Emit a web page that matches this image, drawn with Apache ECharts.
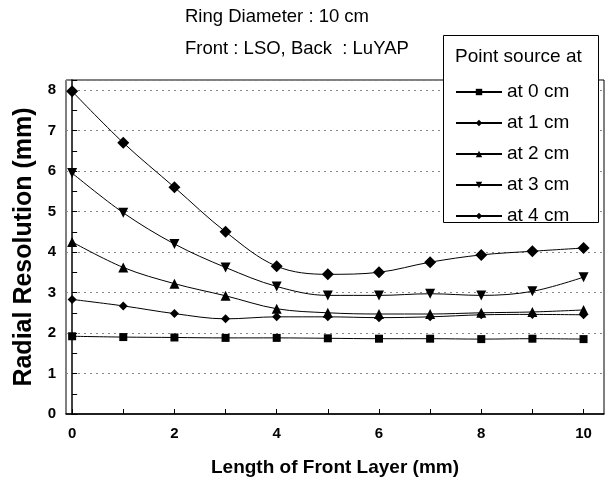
<!DOCTYPE html>
<html><head><meta charset="utf-8">
<script src="https://cdn.jsdelivr.net/npm/echarts@6/dist/echarts.min.js"></script>
<style>html,body{margin:0;padding:0;background:#fff}#c{width:609px;height:483px}</style>
</head><body><div id="c"></div>
<script>
const xValues = [0,1,2,3,4,5,6,7,8,9,10];
const at0 = [1.92,1.90,1.89,1.88,1.88,1.87,1.86,1.86,1.85,1.86,1.85];
const at1 = [2.83,2.67,2.48,2.35,2.40,2.40,2.38,2.40,2.45,2.46,2.45];
const at2 = [4.25,3.62,3.22,2.92,2.60,2.50,2.47,2.47,2.50,2.52,2.57];
const at3 = [5.95,4.97,4.20,3.62,3.15,2.93,2.93,2.97,2.93,3.03,3.38];
const at4 = [7.97,6.70,5.60,4.50,3.65,3.45,3.50,3.75,3.93,4.02,4.10];
const seriesNames = ['at 0 cm','at 1 cm','at 2 cm','at 3 cm','at 4 cm'];
const xTickLabels = [0,2,4,6,8,10];
const yTickLabels = [0,1,2,3,4,5,6,7,8];

const FONT = '"Liberation Sans",Arial,sans-serif';
const chart = echarts.init(document.getElementById('c'));
function pairs(arr){return xValues.map((x,i)=>[x,arr[i]]);}
const symbols = [
  {symbol:'rect', size:8, rot:0},
  {symbol:'diamond', size:9, rot:0},
  {symbol:'triangle', size:10, rot:0},
  {symbol:'triangle', size:10, rot:180},
  {symbol:'diamond', size:12, rot:0}
];
const data = [at0,at1,at2,at3,at4];
const series = data.map((d,i)=>({
  name: seriesNames[i], type:'line', data: pairs(d), smooth:0.35,
  symbol: symbols[i].symbol, symbolSize: symbols[i].size, symbolRotate: symbols[i].rot,
  lineStyle:{color:'#000',width:1}, itemStyle:{color:'#000'}, z: 5
}));
chart.setOption({
  animation:false,
  backgroundColor:'#fff',
  grid:{left:66,right:5,top:80,bottom:69,show:true,borderColor:'#000',borderWidth:1,
    outerBoundsMode:'none',containLabel:false},
  xAxis:{type:'value',min:-0.12,max:10.4,
    name:'Length of Front Layer (mm)',nameLocation:'middle',nameGap:44,
    nameTextStyle:{fontFamily:FONT,fontSize:19,fontWeight:'bold',color:'#000'},
    axisLine:{lineStyle:{color:'#000',width:1.5}},
    axisTick:{inside:true,length:5,customValues:xValues,lineStyle:{color:'#000'}},
    axisLabel:{customValues:xTickLabels,fontFamily:FONT,fontSize:15,fontWeight:'bold',color:'#000',margin:12},
    splitLine:{show:false}},
  yAxis:{type:'value',min:0,max:8.25,interval:1,
    name:'Radial Resolution (mm)',nameLocation:'middle',nameGap:28,
    nameTextStyle:{fontFamily:FONT,fontSize:25,fontWeight:'bold',color:'#000'},
    axisLine:{show:true,lineStyle:{color:'#000',width:1.5}},
    axisTick:{show:true,inside:true,length:5,lineStyle:{color:'#000'}},
    minorTick:{show:true,splitNumber:2,length:5,lineStyle:{color:'#000'}},
    axisLabel:{customValues:yTickLabels,fontFamily:FONT,fontSize:15,fontWeight:'bold',color:'#000',margin:10},
    splitLine:{show:true,lineStyle:{color:'#888',type:[2,4],width:1}}},
  legend:{orient:'vertical',left:455,top:82,padding:0,z:100,
    itemGap:11,itemWidth:46,itemHeight:8,
    textStyle:{fontFamily:FONT,fontSize:19,lineHeight:20,color:'#000'},
    data:seriesNames},
  graphic:[
   {type:'rect',left:443,top:35,z:50,shape:{width:155,height:187},
    style:{fill:'#fff',stroke:'#000',lineWidth:1}},
   {type:'text',left:455,top:47,z:100,
    style:{text:'Point source at',fontFamily:FONT,fontSize:19,fill:'#000'}},
   {type:'text',left:185,top:7,style:{text:'Ring Diameter : 10 cm',fontFamily:FONT,fontSize:18.5,fill:'#000'}},
   {type:'text',left:185,top:39,style:{text:'Front : LSO, Back  : LuYAP',fontFamily:FONT,fontSize:18.5,fill:'#000'}}],
  series:series
});
</script></body></html>
